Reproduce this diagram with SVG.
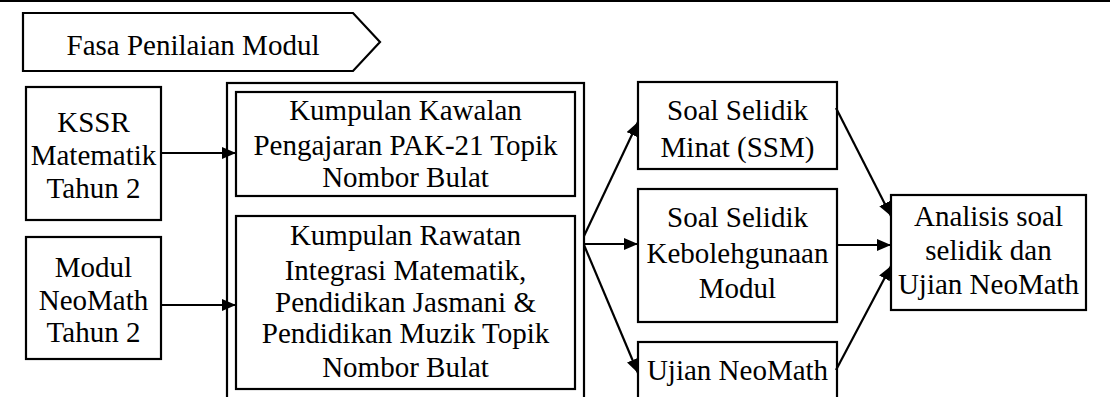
<svg xmlns="http://www.w3.org/2000/svg" width="1110" height="397" viewBox="0 0 1110 397">
<defs>
<marker id="ah" markerUnits="userSpaceOnUse" markerWidth="14" markerHeight="12" refX="14" refY="6" orient="auto">
<path d="M0,0 L14,6 L0,12 z" fill="#000"/>
</marker>
<style>
.box{fill:#fff;stroke:#000;stroke-width:2.2}
.t{font-size:29px;fill:#000;text-anchor:middle}
.c{stroke:#000;stroke-width:2.2;fill:none;marker-end:url(#ah)}
</style>
</defs>
<rect width="1110" height="397" fill="#fff"/>
<line x1="0" y1="1" x2="1110" y2="1" stroke="#000" stroke-width="2"/>
<g font-family="'Liberation Serif', 'DejaVu Serif', serif">
<g id="header">
<polygon class="box" points="23,13 353,13 380,42 353,71 23,71"/>
<text class="t" x="193" y="55">Fasa Penilaian Modul</text>
</g>
<g id="kssr">
<rect class="box" x="26" y="87" width="135" height="133"/>
<text class="t" x="93.5" y="132">KSSR</text>
<text class="t" x="93.5" y="165">Matematik</text>
<text class="t" x="93.5" y="198">Tahun 2</text>
</g>
<g id="modul">
<rect class="box" x="26" y="237" width="135" height="122"/>
<text class="t" x="93.5" y="277">Modul</text>
<text class="t" x="93.5" y="310">NeoMath</text>
<text class="t" x="93.5" y="342">Tahun 2</text>
</g>
<g id="kumpulan">
<rect class="box" x="227" y="83" width="357" height="330"/>
</g>
<g id="kawalan">
<rect class="box" x="236" y="92" width="339" height="104"/>
<text class="t" x="405.5" y="120">Kumpulan Kawalan</text>
<text class="t" x="405.5" y="155">Pengajaran PAK-21 Topik</text>
<text class="t" x="405.5" y="187">Nombor Bulat</text>
</g>
<g id="rawatan">
<rect class="box" x="236" y="216" width="339" height="173"/>
<text class="t" x="405.5" y="245">Kumpulan Rawatan</text>
<text class="t" x="405.5" y="280">Integrasi Matematik,</text>
<text class="t" x="405.5" y="312">Pendidikan Jasmani &amp;</text>
<text class="t" x="405.5" y="343">Pendidikan Muzik Topik</text>
<text class="t" x="405.5" y="377">Nombor Bulat</text>
</g>
<g id="ssm">
<rect class="box" x="638" y="82" width="199" height="87"/>
<text class="t" x="737.5" y="120">Soal Selidik</text>
<text class="t" x="737.5" y="157">Minat (SSM)</text>
</g>
<g id="kebolehgunaan">
<rect class="box" x="638" y="189" width="199" height="133"/>
<text class="t" x="737.5" y="227">Soal Selidik</text>
<text class="t" x="737.5" y="263">Kebolehgunaan</text>
<text class="t" x="737.5" y="298">Modul</text>
</g>
<g id="ujian">
<rect class="box" x="638" y="342" width="199" height="80"/>
<text class="t" x="737.5" y="380">Ujian NeoMath</text>
</g>
<g id="analisis">
<rect class="box" x="891" y="195" width="195" height="115"/>
<text class="t" x="988.5" y="226">Analisis soal</text>
<text class="t" x="988.5" y="260">selidik dan</text>
<text class="t" x="988.5" y="294">Ujian NeoMath</text>
</g>
</g>
<g id="connectors">
<line class="c" x1="161" y1="153" x2="236" y2="153"/>
<line class="c" x1="161" y1="305" x2="236" y2="305"/>
<line class="c" x1="584" y1="236" x2="638" y2="122"/>
<line class="c" x1="584" y1="244" x2="638" y2="244"/>
<line class="c" x1="584" y1="245" x2="638" y2="373"/>
<line class="c" x1="836" y1="108" x2="891" y2="216"/>
<line class="c" x1="837" y1="245" x2="891" y2="245"/>
<line class="c" x1="836" y1="370" x2="891" y2="266"/>
</g>
</svg>
